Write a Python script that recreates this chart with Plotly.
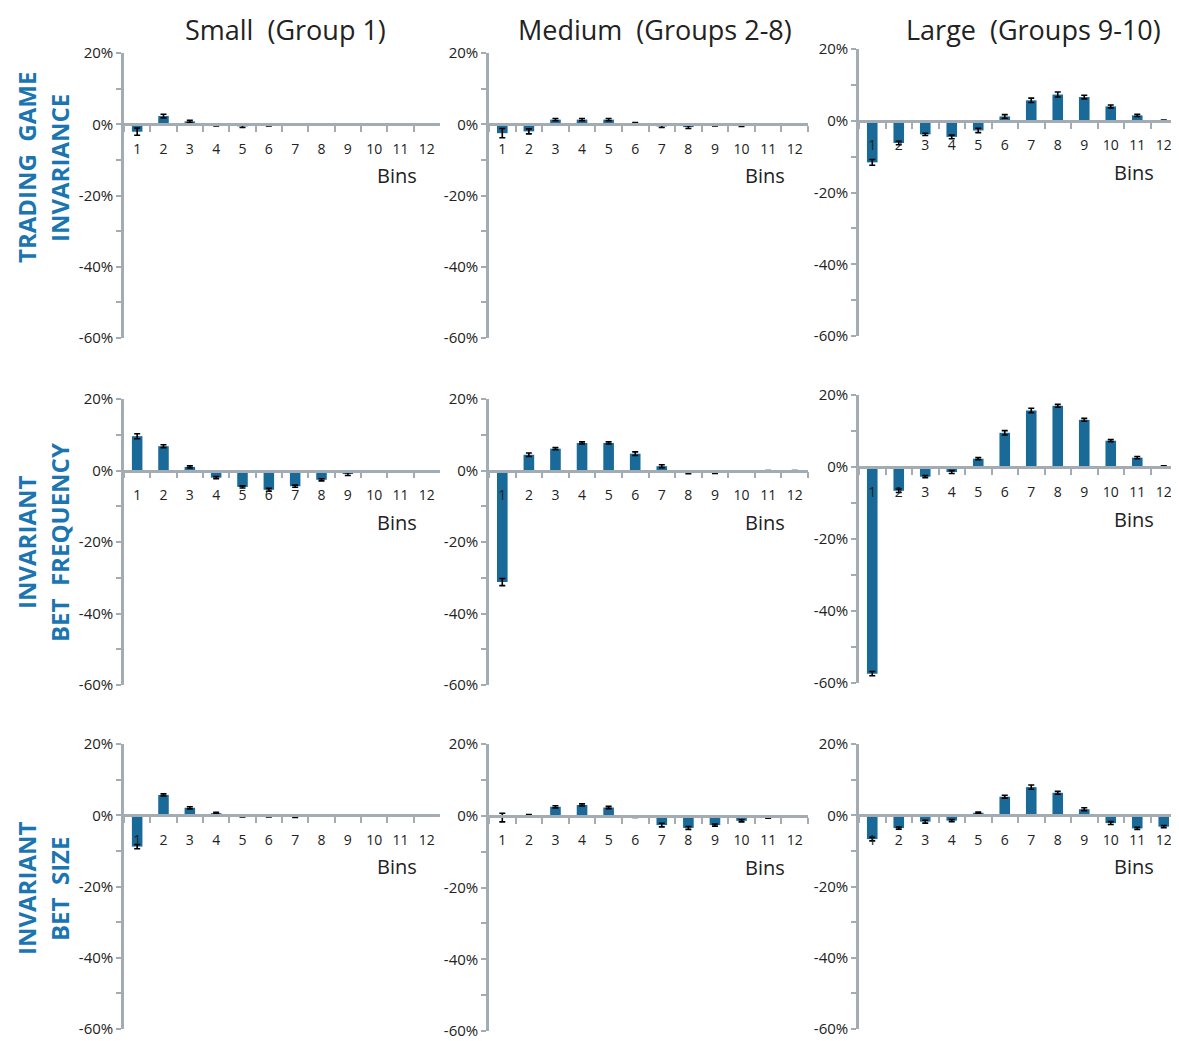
import plotly.graph_objects as go

# page body has an 8px default margin: the figure is drawn 8px in from the top-left
OFF = 8
W, H = 1179 - OFF, 1041 - OFF

bins = [str(i) for i in range(1, 13)]
col_titles = ["Small\u00a0 (Group 1)", "Medium\u00a0 (Groups 2-8)", "Large\u00a0 (Groups 9-10)"]
row_titles = [("TRADING\u00a0 GAME", "INVARIANCE"),
              ("INVARIANT", "BET\u00a0 FREQUENCY"),
              ("INVARIANT", "BET\u00a0 SIZE")]
ytick_vals = [-60, -40, -20, 0, 20]
ytick_text = ["-60%", "-40%", "-20%", "0%", "20%"]

# Row 1: Trading game invariance
tgi_small = [-2.1, 2.3, 0.8, -0.3, -0.6, -0.3, -0.1, -0.1, -0.1, -0.2, -0.2, -0.2]
tgi_small_err = [1.0, 0.5, 0.3, 0.2, 0.3, 0.2, 0.1, 0.1, 0.1, 0.1, 0.1, 0.1]
tgi_medium = [-2.5, -2.0, 1.3, 1.3, 1.3, 0.3, -0.6, -0.8, -0.3, -0.4, -0.2, -0.2]
tgi_medium_err = [1.3, 0.7, 0.3, 0.3, 0.3, 0.2, 0.3, 0.4, 0.2, 0.2, 0.1, 0.1]
tgi_large = [-11.6, -6.2, -3.8, -4.5, -2.7, 1.2, 5.7, 7.3, 6.6, 4.0, 1.5, 0.1]
tgi_large_err = [0.8, 0.5, 0.3, 0.5, 0.6, 0.5, 0.6, 0.7, 0.5, 0.4, 0.3, 0.1]

# Row 2: Invariant bet frequency
ibf_small = [9.6, 6.8, 1.0, -2.0, -4.6, -5.4, -4.4, -2.6, -1.0, -0.3, -0.2, -0.2]
ibf_small_err = [0.7, 0.4, 0.3, 0.3, 0.3, 0.4, 0.3, 0.3, 0.4, 0.1, 0.1, 0.1]
ibf_medium = [-31.2, 4.4, 6.1, 7.7, 7.7, 4.7, 1.2, -0.5, -0.5, -0.2, -0.1, -0.1]
ibf_medium_err = [1.0, 0.5, 0.3, 0.3, 0.3, 0.5, 0.4, 0.4, 0.3, 0.1, 0.1, 0.1]
ibf_large = [-57.4, -6.6, -2.7, -1.4, 2.3, 9.5, 15.7, 17.0, 13.1, 7.3, 2.6, 0.2]
ibf_large_err = [0.6, 0.5, 0.3, 0.4, 0.3, 0.6, 0.6, 0.4, 0.4, 0.3, 0.3, 0.1]

# Row 3: Invariant bet size
ibs_small = [-8.8, 5.7, 2.1, 0.6, -0.3, -0.3, -0.4, -0.1, -0.1, -0.1, -0.1, -0.1]
ibs_small_err = [0.6, 0.3, 0.3, 0.2, 0.2, 0.2, 0.2, 0.1, 0.1, 0.1, 0.1, 0.1]
ibs_medium = [-0.5, 0.2, 2.5, 3.0, 2.3, -0.3, -2.6, -3.4, -2.6, -1.4, -0.5, -0.2]
ibs_medium_err = [1.2, 0.1, 0.3, 0.3, 0.3, 0.2, 0.5, 0.4, 0.3, 0.3, 0.2, 0.1]
ibs_large = [-6.7, -3.6, -1.8, -1.5, 0.7, 5.2, 7.9, 6.3, 1.7, -2.2, -3.7, -3.2]
ibs_large_err = [0.5, 0.3, 0.4, 0.3, 0.2, 0.4, 0.6, 0.4, 0.4, 0.4, 0.3, 0.3]

values = [[tgi_small, tgi_medium, tgi_large],
          [ibf_small, ibf_medium, ibf_large],
          [ibs_small, ibs_medium, ibs_large]]
errors = [[tgi_small_err, tgi_medium_err, tgi_large_err],
          [ibf_small_err, ibf_medium_err, ibf_large_err],
          [ibs_small_err, ibs_medium_err, ibs_large_err]]

# panel geometry in screen pixels
col_x = [(124, 440), (489, 808), (859, 1177)]
panel_y = [[(53, 338), (53, 338), (49, 336)],
           [(399, 685), (399, 685), (395, 683)],
           [(744, 1029), (744, 1031), (744, 1029)]]


def px(xs):
    return (xs - OFF) / W


def py(ys):
    return 1 - (ys - OFF) / H


BAR = "#1a6a99"
AXC = "#a3abb3"
FONT = "Open Sans, sans-serif"

fig = go.Figure()
layout = {}
annotations = []
for r in range(3):
    for c in range(3):
        k = r * 3 + c + 1
        xs = "" if k == 1 else str(k)
        x0, x1 = col_x[c]
        yt, yb = panel_y[r][c]
        xd = [px(x0), px(x1)]
        yd = [py(yb), py(yt)]
        zero_pos = yd[0] + 0.75 * (yd[1] - yd[0])
        fig.add_trace(go.Bar(
            x=bins, y=values[r][c],
            error_y=dict(type="data", array=errors[r][c], color="black",
                         thickness=1.6, width=3),
            marker=dict(color=BAR, line=dict(width=0)),
            xaxis="x" + xs, yaxis="y" + xs, showlegend=False,
        ))
        layout["xaxis" + xs] = dict(
            domain=xd, anchor="free", position=zero_pos, type="category",
            automargin=False, tickangle=0,
            showline=True, linecolor=AXC, linewidth=2.5,
            ticks="outside", tickson="boundaries", ticklen=6, tickcolor=AXC,
            tickwidth=2, showgrid=False, zeroline=False,
            tickfont=dict(family=FONT, size=14, color="#222"),
            ticklabelstandoff=11, layer="above traces",
        )
        layout["yaxis" + xs] = dict(
            domain=yd, anchor="x" + xs, range=[-60, 20], automargin=False,
            tickvals=ytick_vals, ticktext=ytick_text,
            showline=True, linecolor=AXC, linewidth=2.5,
            ticks="outside", ticklen=5, tickcolor=AXC, tickwidth=2,
            minor=dict(dtick=10, ticks="outside", ticklen=5, tickcolor=AXC, tickwidth=2),
            showgrid=False, zeroline=False,
            tickfont=dict(family=FONT, size=15, color="#222"),
        )
        annotations.append(dict(
            text="Bins", x=0.865, y=-14.5, xref="x" + xs + " domain", yref="y" + xs,
            showarrow=False, xanchor="center", yanchor="middle",
            font=dict(family=FONT, size=20, color="#222"),
        ))

col_centers = [285, 655, 1033]
for c in range(3):
    annotations.append(dict(
        text=col_titles[c], x=px(col_centers[c]), y=1, xref="paper", yref="paper",
        showarrow=False, xanchor="center", yanchor="top", yshift=-1,
        font=dict(family=FONT, size=27, color="#222"),
    ))

row_centers = [168, 543, 889]
for r in range(3):
    for j, xp in enumerate([26, 59]):
        annotations.append(dict(
            text="<b>" + row_titles[r][j] + "</b>", x=px(xp), y=py(row_centers[r]),
            xref="paper", yref="paper", showarrow=False, textangle=-90,
            xanchor="center", yanchor="middle",
            font=dict(family=FONT, size=24, color="#1a75b0"),
        ))

fig.update_layout(
    width=W, height=H, margin=dict(l=0, r=0, t=0, b=0, autoexpand=False),
    paper_bgcolor="white", plot_bgcolor="white",
    bargap=0.6, annotations=annotations, **layout,
)
fig.write_html("out.html")
